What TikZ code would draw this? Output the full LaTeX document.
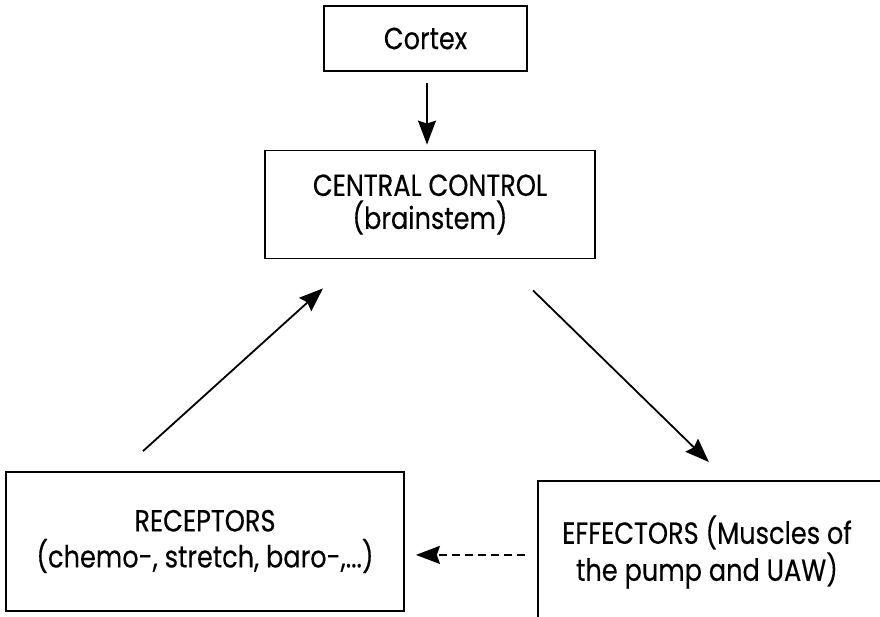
\documentclass[tikz,border=0pt]{standalone}
\usepackage{fontspec}
\setmainfont{Poppins}[FakeStretch=0.84, FakeBold=0.3]
\usetikzlibrary{arrows.meta}
\begin{document}
\begin{tikzpicture}[x=1pt,y=-1pt,
  box/.style={draw, line width=1.8pt, inner sep=0pt, align=center},
  lbl/.style={font=\fontsize{30.5}{34}\selectfont, align=center, inner sep=0pt},
  arr/.style={line width=1.8pt, -{Stealth[length=24pt,width=18pt,inset=3pt]}},
  darr/.style={arr, line width=2pt, dash pattern=on 8pt off 5pt}]
\clip (0,0) rectangle (880,616);
\useasboundingbox (0,0) rectangle (880,616);
\node[box, minimum width=203pt, minimum height=65pt, lbl] (cortex) at (425.5,38.5) {Cortex};
\node[box, minimum width=330pt, minimum height=108pt, lbl, font=\fontsize{30.5}{33}\selectfont] (central) at (430,204.5) {CENTRAL CONTROL\\(brainstem)};
\node[box, minimum width=398pt, minimum height=139pt, lbl, font=\fontsize{30.5}{36}\selectfont] (rec) at (205,541.5) {RECEPTORS\\(chemo-, stretch, baro-,...)};
\node[box, minimum width=400pt, minimum height=148pt, anchor=north west] (effbox) at (537,480) {};
\node[lbl, font=\fontsize{30.5}{37}\selectfont] (eff) at (707,552) {EFFECTORS (Muscles of\\the pump and UAW)};
\draw[arr, shorten >=16pt] ([xshift=1.5pt,yshift=-11pt]cortex.south) -- ([xshift=1.5pt,yshift=-11pt]cortex.south |- central.north);
\draw[arr] ([shift={(-62pt,20pt)}]rec.north) -- ([shift={(-107pt,-29pt)}]central.south);
\draw[arr] ([shift={(103pt,-31pt)}]central.south) -- ([shift={(-29pt,18pt)}]effbox.north);
\draw[darr] ([xshift=-12pt]effbox.west) -- ([xshift=11pt]rec.east |- effbox.west);
\end{tikzpicture}
\end{document}
